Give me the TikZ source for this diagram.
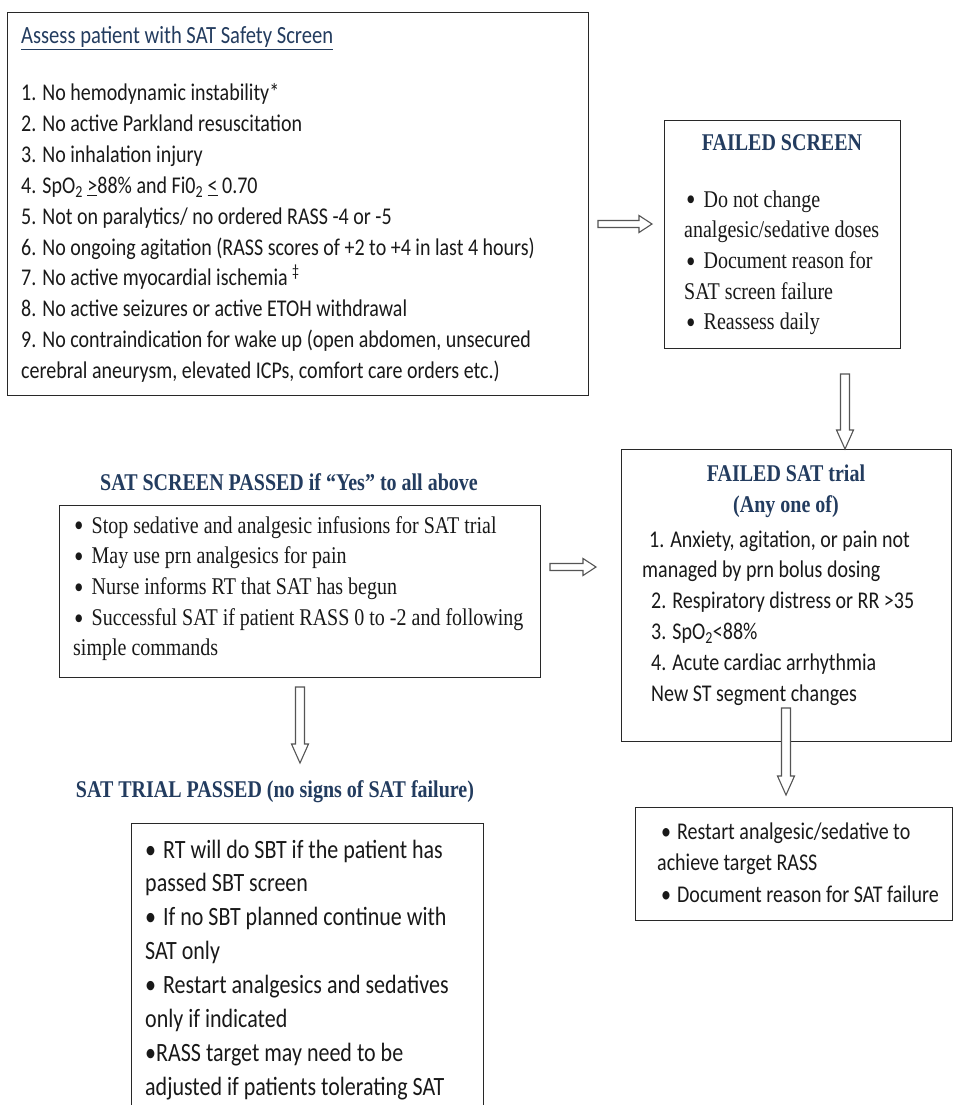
\documentclass[tikz,border=0pt]{standalone}
\usepackage{fontspec}
\setmainfont{Liberation Serif}
\newfontfamily\carl{Carlito}
\usepackage{graphicx}
\usetikzlibrary{calc}
\definecolor{ttl}{RGB}{35,60,95}
\definecolor{ink}{RGB}{25,25,25}
\definecolor{frm}{RGB}{40,40,40}
\definecolor{arr}{RGB}{85,85,85}
\newcommand{\vstr}[1]{\scalebox{1}[1.2]{#1}}
\newcommand{\tblk}[1]{\scalebox{1}[1.2]{\begin{tabular}[t]{@{}l@{}}#1\end{tabular}}}
\newcommand{\bul}[2]{\hspace*{#1}\textbullet\hspace*{#2}}
\newcommand{\sbul}[2]{\hspace*{#1}\raisebox{-3.2pt}{\scalebox{1.35}{\textbullet}}\hspace*{#2}}
\newcommand{\hblk}[2]{\draw[blk] let \p1=(#1), \p2=(#2) in
  (\x1,\y1+3.5pt) -- (\x2-13pt,\y1+3.5pt) -- (\x2-13pt,\y1+8.5pt) -- (\x2,\y1)
  -- (\x2-13pt,\y1-8.5pt) -- (\x2-13pt,\y1-3.5pt) -- (\x1,\y1-3.5pt) -- cycle;}
\newcommand{\vblk}[2]{\draw[blk] let \p1=(#1), \p2=(#2) in
  (\x1-4.5pt,\y1) -- (\x1+4.5pt,\y1) -- (\x1+4.5pt,\y2+19pt) -- (\x1+8.5pt,\y2+19pt)
  -- (\x1,\y2) -- (\x1-8.5pt,\y2+19pt) -- (\x1-4.5pt,\y2+19pt) -- cycle;}
\tikzset{
  frmbox/.style={draw=frm, line width=1.4pt, rectangle, inner sep=0pt, anchor=north west},
  txt/.style={inner sep=0pt, anchor=base west, text=ink},
  calt/.style={font=\carl\fontsize{20}{25.67}\selectfont},
  sert/.style={font=\fontsize{20}{25.6}\selectfont},
  ttlt/.style={inner sep=0pt, anchor=base, text=ttl, font=\bfseries\fontsize{20}{24}\selectfont},
  blk/.style={draw=arr, line width=1.1pt, fill=white, line join=miter}
}
\begin{document}
\begin{tikzpicture}[x=1pt,y=-1pt]
\fill[white] (0,0) rectangle (953,1105);
\useasboundingbox (0,0) rectangle (953,1105);

% --- Box A: SAT safety screen
\node[frmbox, minimum width=581pt, minimum height=383pt] (A) at (7,12) {};
\node[txt, text=ttl, font=\carl\fontsize{20.6}{24}\selectfont] (Atitle) at (21,44)
  {\vstr{\underline{Assess patient with SAT Safety Screen}}};
\node[txt, calt] (Alist) at (21,101) {\tblk{%
1. No hemodynamic instability*\\
2. No active Parkland resuscitation\\
3. No inhalation injury\\
4. SpO\textsubscript{2} \underline{>}88\% and Fi0\textsubscript{2} \underline{<} 0.70\\
5. Not on paralytics/ no ordered RASS -4 or -5\\
6. No ongoing agitation (RASS scores of +2 to +4 in last 4 hours)\\
7. No active myocardial ischemia \textsuperscript{\ddag}\\
8. No active seizures or active ETOH withdrawal\\
9. No contraindication for wake up (open abdomen, unsecured\\
cerebral aneurysm, elevated ICPs, comfort care orders etc.)}};

% --- Box B: failed screen
\node[frmbox, minimum width=236pt, minimum height=228pt] (B) at (664,120) {};
\node[ttlt] (Btitle) at (782,150) {\vstr{FAILED SCREEN}};
\node[txt, sert] (Blist) at (684,207) {\tblk{%
\sbul{2pt}{8pt}Do not change\\
analgesic/sedative doses\\
\sbul{2pt}{8pt}Document reason for\\
SAT screen failure\\
\sbul{2pt}{8pt}Reassess daily}};

% --- Box C: failed SAT trial
\node[frmbox, minimum width=330pt, minimum height=292pt] (C) at (621,449) {};
\node[ttlt] (Ctitle) at (786,481) {\vstr{FAILED SAT trial}};
\node[ttlt] (Csub) at (786,512) {\vstr{(Any one of)}};
\node[txt, calt] (Clist) at (642,547) {\tblk{%
\hspace*{7pt}1. Anxiety, agitation, or pain not\\
managed by prn bolus dosing\\
\hspace*{9pt}2. Respiratory distress or RR >35\\
\hspace*{9pt}3. SpO\textsubscript{2}<88\%\\
\hspace*{9pt}4. Acute cardiac arrhythmia\\
\hspace*{9pt}New ST segment changes}};

% --- Box D: restart
\node[frmbox, minimum width=317pt, minimum height=113pt] (D) at (635,807) {};
\node[txt, font=\carl\fontsize{20}{26.25}\selectfont] (Dlist) at (657,839) {\tblk{%
\bul{4pt}{6pt}Restart analgesic/sedative to\\
achieve target RASS\\
\bul{4pt}{6pt}Document reason for SAT failure}};

% --- Box E: SAT screen passed
\node[ttlt] (Etitle) at (289,490) {\vstr{SAT SCREEN PASSED if “Yes” to all above}};
\node[frmbox, minimum width=481pt, minimum height=172pt] (E) at (59,505) {};
\node[txt, sert] (Elist) at (73,533) {\tblk{%
\sbul{1pt}{8pt}Stop sedative and analgesic infusions for SAT trial\\
\sbul{1pt}{8pt}May use prn analgesics for pain\\
\sbul{1pt}{8pt}Nurse informs RT that SAT has begun\\
\sbul{1pt}{8pt}Successful SAT if patient RASS 0 to -2 and following\\
simple commands}};

% --- Box F: SAT trial passed
\node[ttlt] (Ftitle) at (275,797) {\vstr{SAT TRIAL PASSED (no signs of SAT failure)}};
\node[frmbox, minimum width=352pt, minimum height=320pt] (F) at (131,823) {};
\node[txt, font=\carl\fontsize{22}{28.3}\selectfont] (Flist) at (145,858) {\tblk{%
\bul{0pt}{7pt}RT will do SBT if the patient has\\
passed SBT screen\\
\bul{0pt}{7pt}If no SBT planned continue with\\
SAT only\\
\bul{0pt}{7pt}Restart analgesics and sedatives\\
only if indicated\\
\textbullet RASS target may need to be\\
adjusted if patients tolerating SAT}};

% --- connectors (hollow block arrows)
\coordinate (ab1) at (598,224);
\coordinate (ab2) at (652,224);
\hblk{ab1}{ab2}
\coordinate (bc1) at (845,374);
\coordinate (bc2) at (C.north -| bc1);
\vblk{bc1}{bc2}
\coordinate (ec1) at (550,567);
\coordinate (ec2) at (596,567);
\hblk{ec1}{ec2}
\coordinate (ef1) at (300,687);
\coordinate (ef2) at (300,763);
\vblk{ef1}{ef2}
\coordinate (cd1) at (786,708);
\coordinate (cd2) at (786,795);
\vblk{cd1}{cd2}
\end{tikzpicture}
\end{document}
